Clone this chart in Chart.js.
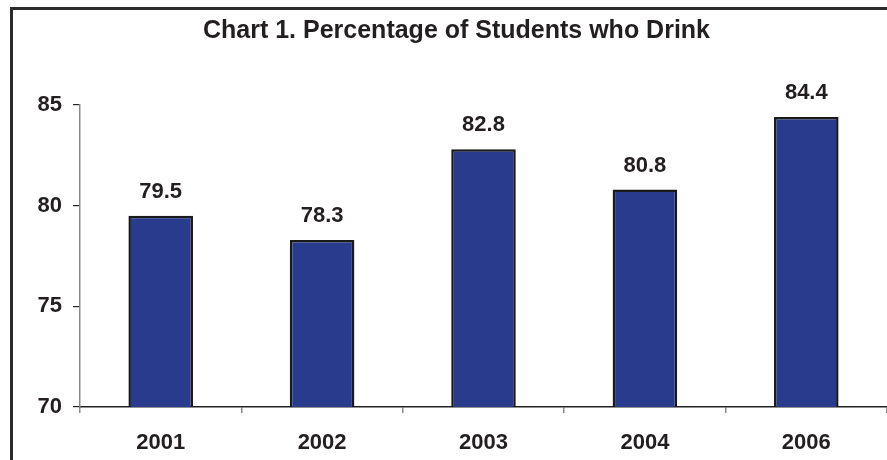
<!DOCTYPE html>
<html>
<head>
<meta charset="utf-8">
<script src="https://cdn.jsdelivr.net/npm/chart.js@4.4.0/dist/chart.umd.min.js"></script>
<style>
  html, body { margin: 0; padding: 0; background: #fff; }
  #wrap { width: 887px; height: 460px; }
</style>
</head>
<body>
<div id="wrap"><canvas id="drinkChart" width="887" height="460"></canvas></div>
<script>
// Data
const years = ['2001', '2002', '2003', '2004', '2006'];
const drinkPct = [79.5, 78.3, 82.8, 80.8, 84.4];
const yTicks = [70, 75, 80, 85];

const textColor = '#231f20';
const barFill = '#293b8c';
const fontFamily = '"Liberation Sans", Arial, sans-serif';

// Outer frame (left + top visible in the reference)
const framePlugin = {
    id: 'frame',
    beforeDraw(chart) {
        const ctx = chart.ctx;
        ctx.save();
        ctx.strokeStyle = '#2b2b2b';
        ctx.lineWidth = 3;
        ctx.strokeRect(11.5, 8.5, chart.width + 20, chart.height + 20);
        ctx.restore();
    }
};

// Value labels above every bar
const valueLabels = {
    id: 'valueLabels',
    afterDatasetsDraw(chart) {
        const ctx = chart.ctx;
        const meta = chart.getDatasetMeta(0);
        ctx.save();
        ctx.font = 'bold 22px ' + fontFamily;
        ctx.fillStyle = textColor;
        ctx.textAlign = 'center';
        ctx.textBaseline = 'alphabetic';
        meta.data.forEach((bar, i) => {
            ctx.fillText(drinkPct[i].toFixed(1), bar.x, bar.y - 18);
        });
        ctx.restore();
    }
};

new Chart(document.getElementById('drinkChart'), {
    type: 'bar',
    data: {
        labels: years,
        datasets: [{
            data: drinkPct,
            backgroundColor: barFill,
            borderColor: '#1a1a1a',
            borderWidth: 2.5,
            borderSkipped: false,
            barPercentage: 0.4,
            categoryPercentage: 1.0
        }]
    },
    options: {
        responsive: false,
        animation: false,
        layout: { padding: { left: 26, right: 0, top: 0, bottom: 0 } },
        plugins: {
            legend: { display: false },
            tooltip: { enabled: false },
            title: {
                display: true,
                text: 'Chart 1. Percentage of Students who Drink',
                color: textColor,
                font: { family: fontFamily, size: 25, weight: 'bold' },
                padding: { top: 16, bottom: 59 }
            }
        },
        scales: {
            x: {
                afterFit(scale) { scale.height = 53; },
                grid: {
                    drawOnChartArea: false,
                    drawTicks: true,
                    tickLength: 6,
                    color: '#8a8a8a',
                    lineWidth: 1.5
                },
                border: { color: '#222', width: 1.5 },
                ticks: {
                    color: textColor,
                    padding: 17,
                    font: { family: fontFamily, size: 22, weight: 'bold' }
                }
            },
            y: {
                min: 70,
                max: 85,
                afterFit(scale) { scale.width = 54; },
                afterBuildTicks(scale) { scale.ticks = yTicks.map(v => ({ value: v })); },
                grid: {
                    drawOnChartArea: false,
                    drawTicks: true,
                    tickLength: 7,
                    color: '#222',
                    lineWidth: 1.2
                },
                border: { color: '#8a8a8a', width: 1.5 },
                ticks: {
                    color: textColor,
                    padding: 11,
                    font: { family: fontFamily, size: 22, weight: 'bold' }
                }
            }
        }
    },
    plugins: [framePlugin, valueLabels]
});
</script>
</body>
</html>
